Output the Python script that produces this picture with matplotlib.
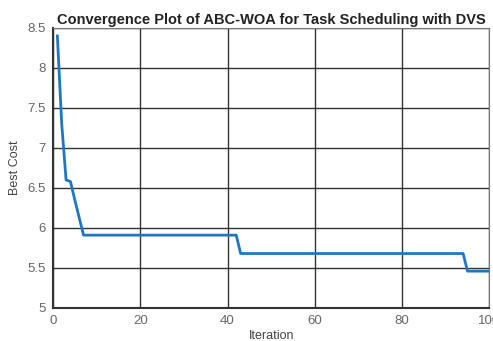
import matplotlib.pyplot as plt
import numpy as np

# best cost per iteration
iterations = np.arange(1, 101)
best_cost = ([8.40, 7.30, 6.60, 6.58, 6.35, 6.13] + [5.91] * 36
             + [5.68] * 52 + [5.46] * 6)

title = "Convergence Plot of ABC-WOA for Task Scheduling with DVS"
x_ticks = [0, 20, 40, 60, 80, 100]
y_ticks = [5, 5.5, 6, 6.5, 7, 7.5, 8, 8.5]
y_labels = ["5", "5.5", "6", "6.5", "7", "7.5", "8", "8.5"]


def main():
    plt.rcParams['font.family'] = ['Liberation Sans', 'DejaVu Sans']
    fig = plt.figure(figsize=(4.93, 3.41), dpi=100)
    ax = fig.add_axes([0.1075, 0.097, 0.885, 0.821])

    ax.plot(iterations, best_cost, color="#1f77c4", linewidth=2)

    ax.set_xlim(0, 100)
    ax.set_ylim(5, 8.5)
    ax.set_xticks(x_ticks)
    ax.set_yticks(y_ticks)
    ax.set_yticklabels(y_labels)
    ax.grid(True, color="#333333", linewidth=1.0)
    ax.tick_params(length=0, labelsize=9.5, labelcolor="#666666", pad=5)
    for s in ["top", "right"]:
        ax.spines[s].set_color("#777777")
        ax.spines[s].set_linewidth(0.8)
    for s in ["bottom", "left"]:
        ax.spines[s].set_color("#333333")
        ax.spines[s].set_linewidth(1.5)

    ax.set_title(title, fontsize=10.5, fontweight="bold", color="#222222", pad=3)
    ax.set_xlabel("Iteration", fontsize=9, color="#444444", labelpad=2)
    ax.set_ylabel("Best Cost", fontsize=9, color="#444444", labelpad=5)

    fig.savefig("out.png", dpi=100)


if __name__ == '__main__':
    main()
